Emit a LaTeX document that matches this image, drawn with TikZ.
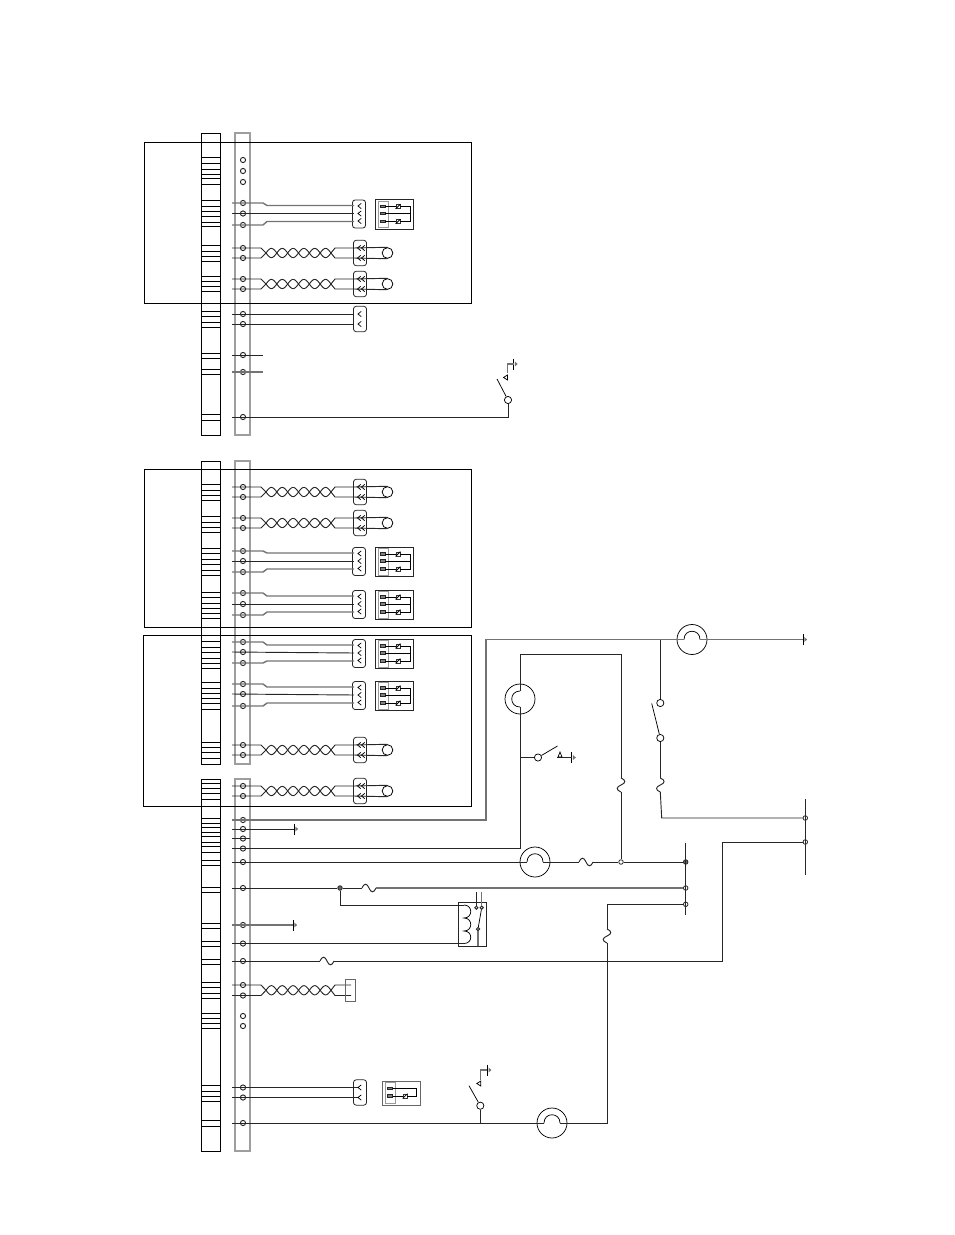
\documentclass[tikz,border=0pt]{standalone}
\usetikzlibrary{shapes.geometric, arrows}
\tikzstyle{wire} = [line width=0.7pt, black!85]
\tikzstyle{wireg} = [line width=1.05pt, black!55]
\tikzstyle{thinl} = [line width=0.55pt, black]
\tikzstyle{frame} = [line width=0.65pt, black]
\tikzstyle{stripblk} = [line width=0.7pt, black]
\tikzstyle{stripgry} = [line width=1.2pt, black!38]
\tikzstyle{term} = [circle, draw=black!85, line width=0.7pt, minimum size=3.9pt, inner sep=0pt]
\tikzstyle{junc} = [circle, draw=black!85, line width=0.6pt, minimum size=3.4pt, inner sep=0pt]
\tikzstyle{contact} = [circle, draw=black, line width=0.55pt, fill=white, minimum size=5.4pt, inner sep=0pt]
\tikzstyle{lamp} = [circle, draw=black, line width=0.55pt, minimum size=22.5pt, inner sep=0pt]
\tikzstyle{loopc} = [circle, draw=black, line width=0.6pt, minimum size=8pt, inner sep=0pt]
\tikzstyle{conn} = [rectangle, rounded corners=2pt, draw=black!85, line width=0.6pt, minimum width=9.8pt, inner sep=0pt]
\tikzstyle{modbox} = [rectangle, draw=black!85, line width=0.65pt, inner sep=0pt]
\tikzstyle{modbar} = [rectangle, draw=black!40, line width=0.8pt, inner sep=0pt]
\tikzstyle{pin} = [rectangle, draw=black!85, fill=black!50, line width=0.5pt, minimum width=3.6pt, minimum height=1.8pt, inner sep=0pt]
\tikzstyle{sensor} = [rectangle, draw=black!80, line width=0.45pt, minimum size=3.2pt, inner sep=0pt]
\tikzstyle{gndtip} = [isosceles triangle, isosceles triangle apex angle=80, fill=black!55, minimum height=2.2pt, minimum width=3pt, inner sep=0pt]

% terminal on the grey strip, with the start of its wire
\newcommand{\tap}[2]{\node[term] (#1) at (243,#2) {}; \coordinate (#1s) at (232,#2);}
\newcommand{\chev}[2]{\draw[thinl] ({#1+3.2},{#2-2.6}) -- (#1,#2) -- ({#1+3.2},{#2+2.6});}
\newcommand{\slashed}[3]{\node[sensor] (#1) at (#2,#3) {}; \draw[thinl] (#1.south west) -- (#1.north east);}
\newcommand{\fuseh}[3]{\coordinate (#1-l) at ({#2-7},#3); \coordinate (#1-r) at ({#2+7},#3);
  \draw[wire] (#1-l) .. controls ({#2-5},{#3-5}) and ({#2-2},{#3-5}) .. (#2,#3) .. controls ({#2+2},{#3+5}) and ({#2+5},{#3+5}) .. (#1-r);}
\newcommand{\fusev}[3]{\coordinate (#1-t) at (#2,{#3-7}); \coordinate (#1-b) at (#2,{#3+7});
  \draw[wire] (#1-t) .. controls ({#2+5},{#3-5}) and ({#2+5},{#3-2}) .. (#2,#3) .. controls ({#2-5},{#3+2}) and ({#2-5},{#3+5}) .. (#1-b);}
\newcommand{\lamph}[3]{\node[lamp] (#1) at (#2,#3) {}; \coordinate (#1-l) at ({#2-8},#3); \coordinate (#1-r) at ({#2+8},#3);
  \draw[thinl] (#1-l) .. controls ({#2-8},{#3-11}) and ({#2+8},{#3-11}) .. (#1-r);}
\newcommand{\lampv}[3]{\node[lamp] (#1) at (#2,#3) {}; \coordinate (#1-t) at (#2,{#3-8}); \coordinate (#1-b) at (#2,{#3+8});
  \draw[thinl] (#1-t) .. controls ({#2-11},{#3-8}) and ({#2-11},{#3+8}) .. (#1-b);}
\newcommand{\gndsym}[3]{\coordinate (#1) at (#2,#3); \draw[thinl] (#2,{#3-5.5}) -- (#2,{#3+5.5});
  \node[gndtip] (#1tip) at ({#2+2.4},#3) {};}
\newcommand{\contactl}[2]{\draw[thinl] (#1,#2) -- ({#1+4},{#2-2.5}) -- ({#1+4},{#2+2.5}) -- cycle;}
% twisted pair from two terminals up to the x given last
\newcommand{\twist}[4]{\tap{#1a}{#2} \tap{#1b}{#3}
  \coordinate (#1ae) at (#4,#2); \coordinate (#1be) at (#4,#3);
  \draw[wire] (#1as) -- (261,#2) -- plot[variable=\t, domain=0:6, samples=73] ({266+\t*10.83},{(#2+#3)/2+4.6*sin(180*\t)}) -- (335,#3) -- (#1be);
  \draw[wire] (#1bs) -- (261,#3) -- plot[variable=\t, domain=0:6, samples=73] ({266+\t*10.83},{(#2+#3)/2-4.6*sin(180*\t)}) -- (335,#2) -- (#1ae);}
% twisted pair into a double connector and its loop
\newcommand{\twistloop}[3]{\twist{#1}{#2}{#3}{354}
  \node[conn, minimum height=19pt] (#1con) at (360,{(#2+#3)/2}) {};
  \node[loopc] (#1c) at (387.5,{(#2+#3)/2}) {};
  \draw[wire] (#1ae) -- (#1c.north); \draw[wire] (#1be) -- (#1c.south);
  \chev{357.5}{#2} \chev{361.5}{#2} \chev{357.5}{#3} \chev{361.5}{#3}}
% three wires, connector and the module beside it
\newcommand{\triple}[5]{\tap{#1a}{#2} \tap{#1b}{#3} \tap{#1c}{#4}
  \node[conn, minimum height=21pt] (#1con) at (359,{#5+0.5}) {};
  \coordinate (#1ae) at (354,{#5-8}); \coordinate (#1be) at (354,#5); \coordinate (#1ce) at (354,{#5+8});
  \draw[wireg] (#1as) -- (263,#2) -- (267,{#5-8}) -- (#1ae);
  \draw[wire] (#1bs) -- (#1be);
  \draw[wireg] (#1cs) -- (263,#4) -- (267,{#5+8}) -- (#1ce);
  \chev{358}{#5-7.5} \chev{358}{#5} \chev{358}{#5+7.5}
  \node[modbox, minimum width=28pt, minimum height=22pt] (#1mod) at (394.5,{#5+1}) {};
  \node[modbar, minimum width=8pt, minimum height=20pt] (#1bar) at (383.5,{#5+1}) {};
  \node[pin] (#1p1) at (382.5,{#5-7}) {}; \node[pin] (#1p2) at (382.5,#5) {}; \node[pin] (#1p3) at (382.5,{#5+8}) {};
  \slashed{#1s1}{398}{#5-7} \slashed{#1s2}{398}{#5+8}
  \draw[thinl] (#1p1) -- (#1s1); \draw[thinl] (#1p3) -- (#1s2); \draw[thinl] (#1p2) -- (410,#5);
  \draw[thinl] (#1s1) -| (410,{#5+8}) -- (#1s2);}

\begin{document}
\begin{tikzpicture}[x=0.75pt, y=-0.75pt]
    \useasboundingbox (0,0) rectangle (954,1235);

    % the two strips
    \foreach \ytop/\ybot in {133/435, 461/764, 779/1151} {
        \draw[stripblk] (201,\ytop) rectangle (220,\ybot);
        \draw[stripgry] (235,\ytop) rectangle (250,\ybot);
    }
    \foreach \yslot in {157,163,169,174,178,184, 200,206,211,216,222,226, 245,251,256,261, 276,281,286,291,
        311,316,322,327, 353,358, 369,374, 414,420,
        484,490,495,500, 516,522,527,532, 548,553,559,564,570,575, 592,597,603,608,613,618,
        641,647,652,658,663,668, 682,688,693,698,703,709, 742,747,752,758,
        783,788,793,799, 818,823, 827,832, 836,842, 846,852, 860,865, 887,892, 923,928, 941,946, 959,964,
        982,987,993,998, 1013,1018,1023,1028, 1085,1091,1096,1101, 1120,1126}
        \draw[thinl] (201,\yslot) -- (220,\yslot);

    % frames
    \draw[frame] (144,142) rectangle (471,303);
    \draw[frame] (144,469) rectangle (471,627);
    \draw[frame] (144,469) -- (471,469) -- (471,627);
    \draw[frame] (143,635) rectangle (471,806);

    % open terminals
    \node[term] (open1) at (243,160) {};
    \node[term] (open2) at (243,171) {};
    \node[term] (open3) at (243,182) {};
    \node[term] (open4) at (243,1016) {};
    \node[term] (open5) at (243,1026) {};

    % upper block
    \triple{trA}{203}{213.5}{225}{213.5}
    \twistloop{twA}{248}{258}
    \twistloop{twB}{279}{289}

    \tap{tpA}{314}
    \tap{tpB}{324}
    \node (conA) [conn, minimum height=19pt] at (360,319) {};
    \draw[wire] (tpAs) -- (354,314);
    \draw[wire] (tpBs) -- (354,324);
    \chev{358}{314} \chev{358}{324}

    \tap{stubA}{355}
    \tap{stubB}{372}
    \draw[wire] (stubAs) -- (263,355);
    \draw[wireg] (stubBs) -- (263,372);

    \tap{swT}{417}
    \node (swTc) [contact] at (508,400) {};
    \coordinate (swTe) at (497,379);
    \draw[wire] (swTs) -- (508,417) -- (swTc);
    \draw[thinl] (swTc) -- (swTe);
    \contactl{503.5}{377.5}
    \gndsym{gndT}{513.5}{364}
    \draw[wireg] (507.5,373) |- (gndT);

    % middle blocks
    \twistloop{twC}{487}{497}
    \twistloop{twD}{518}{528}
    \triple{trB}{551}{561}{572}{561}
    \triple{trC}{593}{604}{615}{604}
    \triple{trD}{642}{652}{663}{653}
    \triple{trE}{684}{694}{706}{695}
    \twistloop{twE}{745}{755}
    \twistloop{twF}{786}{796}

    % lower block, right side
    \tap{rwA}{820}
    \lamph{lampA}{692}{639.5}
    \gndsym{gndA}{803}{639.5}
    \draw[wireg] (rwAs) -- (486,820) -- (486,639.5) -- (lampA-l);
    \draw[wireg] (lampA-r) -- (gndA);

    \tap{rwB}{829}
    \gndsym{gndB}{294}{829}
    \draw[wire] (rwBs) -- (gndB);

    \tap{rwC}{838.5}
    \draw[wire] (rwCs) -- (250,838.5);

    \tap{rwD}{848.5}
    \lampv{lampB}{520}{699}
    \fusev{fuseA}{621}{785}
    \node (jA) [junc] at (621,862) {};
    \draw[wire] (rwDs) -- (520,848.5) -- (lampB-b);
    \draw[wire] (lampB-t) -- (520,654.5) -- (621,654.5) -- (fuseA-t);
    \draw[wire] (fuseA-b) -- (jA);

    \coordinate (swMb) at (520,757.5);
    \node (swMc) [contact] at (538,757.5) {};
    \coordinate (swMe) at (557.5,746);
    \gndsym{gndM}{571.7}{757.5}
    \coordinate (gndMs) at (557,757.5);
    \draw[wire] (swMb) -- (swMc);
    \draw[thinl] (swMc) -- (swMe);
    \draw[wire] (gndMs) -- (gndM);
    \draw[thinl] (558,757) -- (560,752) -- (562,757) -- cycle;

    \tap{rwE}{862}
    \lamph{lampC}{535}{862}
    \fuseh{fuseB}{586}{862}
    \node (jB) [junc, fill=black!60] at (685.7,862) {};
    \draw[wire] (rwEs) -- (lampC-l);
    \draw[wire] (lampC-r) -- (fuseB-l);
    \draw[wire] (fuseB-r) -- (jA);
    \draw[wire] (jA) -- (jB);

    \tap{rwF}{888}
    \node (jC) [junc, fill=black!60] at (340,888) {};
    \fuseh{fuseC}{369}{888}
    \node (jD) [junc] at (685.7,888) {};
    \draw[wire] (rwFs) -- (jC);
    \draw[wire] (jC) -- (fuseC-l);
    \draw[wireg] (fuseC-r) -- (jD);

    % relay
    \node (relay) [modbox, minimum width=21.5pt, minimum height=32.5pt] at (472.5,924.5) {};
    \coordinate (coilT) at (464,905);
    \coordinate (coilB) at (464,943.5);
    \draw[wire] (jC) -- (340,905) -- (coilT);
    \draw[thinl] (coilT) .. controls (473,905) and (473,918) .. (464,918)
        .. controls (473,918) and (473,931) .. (464,931)
        .. controls (473,931) and (473,943.5) .. (coilB);
    \node (relA) [term, minimum size=2.4pt] at (476.3,907.7) {};
    \node (relB) [term, minimum size=2.4pt] at (481.7,907.7) {};
    \node (relC) [term, minimum size=2.4pt] at (478,929) {};
    \draw[wire] (476.3,891.5) -- (relA);
    \draw[wireg] (481.7,891.5) -- (relB);
    \draw[thinl] (relC) -- (relB);
    \draw[wireg] (relC) -- (478,946);

    \tap{rwG}{925}
    \gndsym{gndC}{293}{925}
    \draw[wireg] (rwGs) -- (gndC);

    \tap{rwH}{943.5}
    \draw[wire] (rwHs) -- (coilB);

    \tap{rwI}{961}
    \fuseh{fuseD}{327}{961}
    \node (jE) [junc] at (805.3,842) {};
    \node (jF) [junc] at (805.3,818) {};
    \draw[wire] (rwIs) -- (fuseD-l);
    \draw[wire] (fuseD-r) -- (722.5,961) -- (722.5,842) -- (jE);
    \draw[wire] (805.3,799) -- (805.3,875);
    \draw[wire] (685.7,843) -- (685.7,915);

    % right switch
    \coordinate (brA) at (660.3,639.5);
    \node (swRu) [contact] at (660.3,703) {};
    \node (swRl) [contact] at (660.3,738) {};
    \coordinate (swRe) at (651.7,703.5);
    \fusev{fuseE}{660.3}{785}
    \draw[wire] (brA) -- (swRu);
    \draw[thinl] (swRl) -- (swRe);
    \draw[wire] (swRl) -- (fuseE-t);
    \draw[wire] (fuseE-b) -- (661.7,818) -- (jF);

    % twisted pair to the small box
    \twist{twG}{985}{995.5}{351}
    \node (boxG) [rectangle, draw=black!60, line width=0.7pt, minimum width=8pt, minimum height=17pt, inner sep=0pt] at (350.5,990.5) {};

    % bottom row
    \tap{bwA}{1087.5}
    \tap{bwB}{1097.5}
    \node (conB) [conn, minimum height=19pt] at (360,1092.5) {};
    \draw[wire] (bwAs) -- (358,1087.5);
    \draw[wire] (bwBs) -- (358,1097.5);
    \chev{358}{1087.5} \chev{358}{1097.5}
    \node (modB) [modbox, minimum width=28.5pt, minimum height=18pt, draw=black!60] at (401,1093) {};
    \node (barB) [modbar, minimum width=8pt, minimum height=16pt] at (390.5,1093) {};
    \node (pinB1) [pin] at (390,1088.5) {};
    \node (pinB2) [pin] at (390,1096) {};
    \slashed{sensB}{405}{1096}
    \draw[thinl] (pinB2) -- (sensB);
    \draw[thinl] (pinB1) -| (416.7,1096) -- (sensB);

    \tap{bwC}{1123}
    \lamph{lampD}{552}{1123}
    \fusev{fuseF}{607}{936}
    \node (jG) [junc] at (685.7,904.3) {};
    \draw[wire] (bwCs) -- (lampD-l);
    \draw[wire] (lampD-r) -- (607,1123) -- (fuseF-b);
    \draw[wire] (fuseF-t) -- (607,904.3) -- (jG);

    \coordinate (brB) at (480.3,1123);
    \node (swBc) [contact] at (480.3,1105.7) {};
    \coordinate (swBe) at (469,1085.7);
    \draw[wire] (brB) -- (swBc);
    \draw[thinl] (swBc) -- (swBe);
    \contactl{476.8}{1083.5}
    \gndsym{gndD}{487.3}{1070}
    \draw[wireg] (480.7,1080) |- (gndD);
\end{tikzpicture}
\end{document}
